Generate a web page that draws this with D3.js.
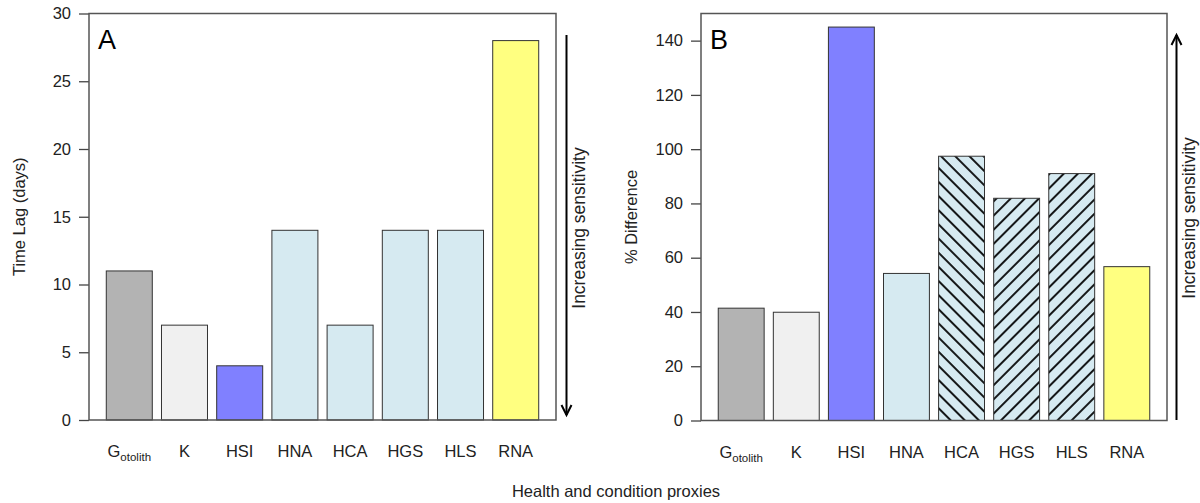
<!DOCTYPE html>
<html>
<head>
<meta charset="utf-8">
<script src="https://cdn.jsdelivr.net/npm/d3@7"></script>
<style>
  html, body { margin: 0; padding: 0; background: #fff; }
  svg { display: block; font-family: "Liberation Sans", Arial, sans-serif; }
</style>
</head>
<body>
<svg id="chart" width="1200" height="503"></svg>
<script>
// data
const PROXIES = ['Gotolith', 'K', 'HSI', 'HNA', 'HCA', 'HGS', 'HLS', 'RNA'];
const TIME_LAG = [11, 7, 4, 14, 7, 14, 14, 28];
const PCT_DIFF = [41.4, 39.9, 145, 54.2, 97.4, 81.9, 91, 56.7];
const LAG_TICKS = [0, 5, 10, 15, 20, 25, 30];
const DIFF_TICKS = [0, 20, 40, 60, 80, 100, 120, 140];

// styling per proxy
const FILL = {
    Gotolith: '#b3b3b3', K: '#f0f0f0', HSI: '#8080ff', HNA: '#d6eaf1',
    HCA: '#d6eaf1', HGS: '#d6eaf1', HLS: '#d6eaf1', RNA: '#ffff80'
};
const HATCH_B = {HCA: 'back', HGS: 'fwd', HLS: 'fwd'};
const SUB = {Gotolith: ['G', 'otolith']};

const svg = d3.select('#chart');
const defs = svg.append('defs');

function makeHatch(id, angle) {
    const p = defs.append('pattern')
        .attr('id', id)
        .attr('patternUnits', 'userSpaceOnUse')
        .attr('width', 10).attr('height', 10)
        .attr('patternTransform', `rotate(${angle})`);
    p.append('rect').attr('width', 10).attr('height', 10).attr('fill', '#d6eaf1');
    p.append('line')
        .attr('x1', 5).attr('x2', 5).attr('y1', 0).attr('y2', 10)
        .attr('stroke', '#000').attr('stroke-width', 1.8);
}
makeHatch('hatch-fwd', 45);
makeHatch('hatch-back', -45);

function drawPanel(opts) {
    const {left, right, top, bottom, values, domain, ticks, letter, ylabel, ylabelX, hatch} = opts;

    const x = d3.scaleBand()
        .domain(PROXIES)
        .range([left, right])
        .paddingInner(0.2 / 1.2)
        .paddingOuter(0.313);
    const y = d3.scaleLinear().domain(domain).range([bottom, top]);

    const g = svg.append('g');

    g.selectAll('rect.bar')
        .data(PROXIES.map((p, i) => ({p, v: values[i]})))
        .enter()
        .append('rect')
        .attr('class', 'bar')
        .attr('x', d => x(d.p))
        .attr('width', x.bandwidth())
        .attr('y', d => y(d.v))
        .attr('height', d => y(0) - y(d.v))
        .attr('fill', d => hatch && hatch[d.p] ? `url(#hatch-${hatch[d.p]})` : FILL[d.p])
        .attr('stroke', '#333')
        .attr('stroke-width', 1);

    // y axis
    const yAxis = d3.axisLeft(y).tickValues(ticks).tickSize(10).tickPadding(8);
    const ag = g.append('g')
        .attr('transform', `translate(${left},0)`)
        .call(yAxis);
    ag.select('.domain').remove();
    ag.selectAll('.tick line').attr('stroke', '#444').attr('stroke-width', 1.3);
    ag.selectAll('.tick text')
        .attr('font-size', 16.5)
        .attr('fill', '#222')
        .attr('font-family', '"Liberation Sans", Arial, sans-serif');

    // box
    g.append('rect')
        .attr('x', left).attr('y', top)
        .attr('width', right - left).attr('height', bottom - top)
        .attr('fill', 'none')
        .attr('stroke', '#555')
        .attr('stroke-width', 1.5);

    // category labels
    const lab = g.selectAll('text.cat')
        .data(PROXIES)
        .enter()
        .append('text')
        .attr('class', 'cat')
        .attr('x', d => x(d) + x.bandwidth() / 2)
        .attr('y', bottom + 37)
        .attr('text-anchor', 'middle')
        .attr('font-size', 16.5)
        .attr('fill', '#222');
    lab.each(function(d) {
        const t = d3.select(this);
        if (SUB[d]) {
            t.append('tspan').text(SUB[d][0]);
            t.append('tspan').attr('font-size', 11.5).attr('dy', 4).text(SUB[d][1]);
        } else {
            t.text(d);
        }
    });

    // panel letter
    g.append('text')
        .attr('x', left + 9)
        .attr('y', top + 35)
        .attr('font-size', 27)
        .attr('fill', '#000')
        .text(letter);

    // y label
    g.append('text')
        .attr('transform', `translate(${ylabelX},${(top + bottom) / 2}) rotate(-90)`)
        .attr('text-anchor', 'middle')
        .attr('font-size', 16.5)
        .attr('fill', '#222')
        .text(ylabel);

    return {x, y};
}

drawPanel({
    left: 89, right: 556, top: 13.5, bottom: 420,
    values: TIME_LAG, domain: [0, 30], ticks: LAG_TICKS,
    letter: 'A', ylabel: 'Time Lag (days)', ylabelX: 25
});
drawPanel({
    left: 701, right: 1167, top: 13.5, bottom: 420.5,
    values: PCT_DIFF, domain: [0, 150], ticks: DIFF_TICKS,
    letter: 'B', ylabel: '% Difference', ylabelX: 637, hatch: HATCH_B
});

// sensitivity arrows
function arrow(xp, yFrom, yTo, labelX, labelY) {
    svg.append('line')
        .attr('x1', xp).attr('x2', xp).attr('y1', yFrom).attr('y2', yTo)
        .attr('stroke', '#000').attr('stroke-width', 2);
    const dir = yTo > yFrom ? -1 : 1;
    svg.append('path')
        .attr('d', `M${xp - 5},${yTo + dir * 10} L${xp},${yTo} L${xp + 5},${yTo + dir * 10}`)
        .attr('fill', 'none').attr('stroke', '#000').attr('stroke-width', 2);
    svg.append('text')
        .attr('transform', `translate(${labelX},${labelY}) rotate(-90)`)
        .attr('text-anchor', 'middle')
        .attr('font-size', 17.5)
        .attr('fill', '#222')
        .text('Increasing sensitivity');
}
arrow(566.5, 35, 415, 585, 228);
arrow(1176.5, 420, 35, 1195, 218);

// shared x label
svg.append('text')
    .attr('x', 616).attr('y', 497)
    .attr('text-anchor', 'middle')
    .attr('font-size', 16.5)
    .attr('fill', '#222')
    .text('Health and condition proxies');
</script>
</body>
</html>
